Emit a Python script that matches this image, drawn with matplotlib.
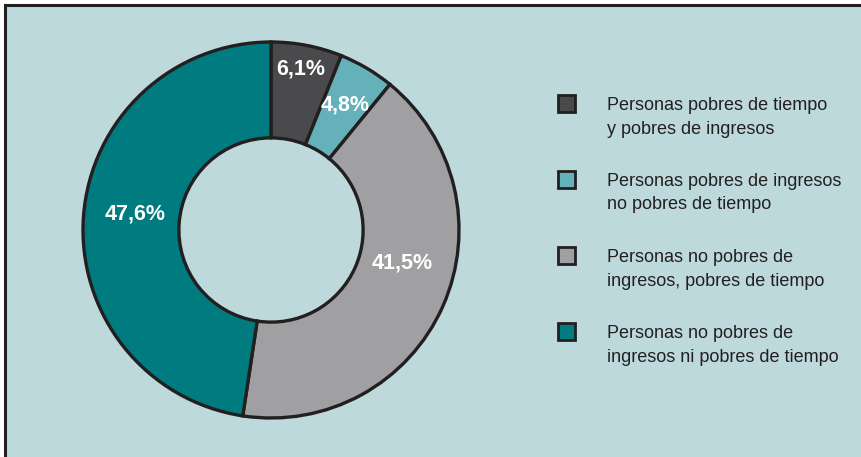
import matplotlib
matplotlib.use('Agg')
import matplotlib.pyplot as plt
from matplotlib.patches import Rectangle
from matplotlib.lines import Line2D
import numpy as np

# data
labels = ['Personas pobres de tiempo\ny pobres de ingresos',
          'Personas pobres de ingresos\nno pobres de tiempo',
          'Personas no pobres de\ningresos, pobres de tiempo',
          'Personas no pobres de\ningresos ni pobres de tiempo']
values = [6.1, 4.8, 41.5, 47.6]
pct_text = ['6,1%', '4,8%', '41,5%', '47,6%']
colors = ['#4a4a4c', '#64b1ba', '#a0a0a2', '#007b80']

bg = '#bdd9dc'
edge = '#231f20'
fam = ['Liberation Sans', 'DejaVu Sans']

W, H = 862, 457
fig = plt.figure(figsize=(W / 100, H / 100), dpi=100)
fig.patch.set_facecolor('white')

# background panel with top/left border
fig.add_artist(Rectangle((5 / W, 0), 1, (H - 5) / H, transform=fig.transFigure,
                         facecolor=bg, edgecolor='none', zorder=0))
fig.add_artist(Line2D([5 / W, 1], [(H - 4.5) / H] * 2, transform=fig.transFigure,
                      color=edge, lw=2.2))
fig.add_artist(Line2D([5 / W] * 2, [0, (H - 4.5) / H], transform=fig.transFigure,
                      color=edge, lw=2.2))

# donut
cx, cy, R = 271, 230, 188
ax = fig.add_axes([(cx - R) / W, (H - cy - R) / H, 2 * R / W, 2 * R / H])
wedges, _ = ax.pie(values, colors=colors, startangle=90, counterclock=False,
                   radius=1, wedgeprops=dict(width=0.51, edgecolor=edge, linewidth=2.4))
ax.set_xlim(-1, 1)
ax.set_ylim(-1, 1)
ax.axis('off')

# label placement (radius, angle shift in degrees)
lab_r = [0.87, 0.77, 0.72, 0.73]
lab_shift = [0.5, 0, 10, -2.5]
for w, t, r, s in zip(wedges, pct_text, lab_r, lab_shift):
    a = np.deg2rad((w.theta1 + w.theta2) / 2 + s)
    ax.text(r * np.cos(a), r * np.sin(a), t, ha='center', va='center',
            color='white', fontsize=15.5, fontweight='bold', family=fam)

# legend
ys = [103, 179, 255, 331]
sq = 17
for lab, c, y in zip(labels, colors, ys):
    fig.add_artist(Rectangle(((567 - sq / 2) / W, (H - y - sq / 2) / H), sq / W, sq / H,
                             transform=fig.transFigure, facecolor=c,
                             edgecolor=edge, linewidth=2))
    for k, line in enumerate(lab.split('\n')):
        fig.text(607 / W, (H - (y + 7.5 + 23 * k)) / H, line, ha='left', va='baseline',
                 fontsize=13, color='#231f20', family=fam)

fig.savefig('out.png', dpi=100, facecolor=fig.get_facecolor())
